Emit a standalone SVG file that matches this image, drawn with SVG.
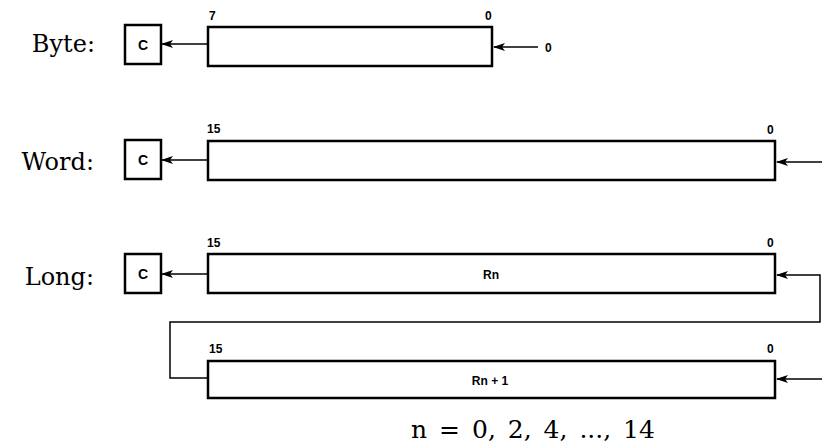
<svg xmlns="http://www.w3.org/2000/svg" width="826" height="446" viewBox="0 0 826 446">
<defs>
<marker id="ah" markerWidth="12" markerHeight="8" refX="11" refY="4" orient="auto" markerUnits="userSpaceOnUse">
<path d="M0,0 L12,4 L0,8 L3,4 Z" fill="#000"/>
</marker>
<style>
.reg{fill:#fff;stroke:#000;stroke-width:2.5}
.cb{fill:#fff;stroke:#000;stroke-width:2.5}
.ln{fill:none;stroke:#000;stroke-width:1.5}
.lab{font-family:"DejaVu Serif",serif;font-size:24px;fill:#000;text-anchor:end}
.foot{font-family:"DejaVu Serif",serif;font-size:25px;fill:#000;text-anchor:middle;word-spacing:4px}
.sm{font-family:"Liberation Sans",Arial,sans-serif;font-size:12px;font-weight:bold;fill:#000}
.cc{font-family:"Liberation Sans",Arial,sans-serif;font-size:14px;font-weight:bold;fill:#000;text-anchor:middle}
</style>
</defs>
<rect width="826" height="446" fill="#fff"/>

<g id="byte">
<text class="lab" x="95" y="52">Byte:</text>
<rect class="cb" x="125" y="25" width="36" height="39"/>
<text class="cc" x="143" y="50">C</text>
<rect class="reg" x="208" y="27" width="284" height="39"/>
<text class="sm" x="209" y="20">7</text>
<text class="sm" x="485" y="20">0</text>
<text class="sm" x="545" y="52">0</text>
</g>

<g id="word">
<text class="lab" x="94" y="170">Word:</text>
<rect class="cb" x="125" y="140" width="36" height="39"/>
<text class="cc" x="143" y="165">C</text>
<rect class="reg" x="208" y="141" width="567" height="39"/>
<text class="sm" x="207" y="133">15</text>
<text class="sm" x="767" y="134">0</text>
</g>

<g id="long">
<text class="lab" x="94" y="285">Long:</text>
<rect class="cb" x="125" y="254" width="36" height="39"/>
<text class="cc" x="143" y="279">C</text>
<rect class="reg" x="208" y="254" width="567" height="39"/>
<text class="sm" x="207" y="247">15</text>
<text class="sm" x="767" y="247">0</text>
<text class="sm" x="491" y="279" text-anchor="middle">Rn</text>
</g>

<g id="long2">
<rect class="reg" x="208" y="361" width="567" height="37"/>
<text class="sm" x="209" y="353">15</text>
<text class="sm" x="767" y="353">0</text>
<text class="sm" x="490" y="385" text-anchor="middle">Rn + 1</text>
</g>

<g id="footer">
<text class="foot" x="533" y="438">n = 0, 2, 4, ..., 14</text>
</g>

<g id="connectors">
<line class="ln" x1="208" y1="44" x2="162" y2="44" marker-end="url(#ah)"/>
<line class="ln" x1="538" y1="47" x2="494" y2="47" marker-end="url(#ah)"/>
<line class="ln" x1="208" y1="160" x2="162" y2="160" marker-end="url(#ah)"/>
<line class="ln" x1="822" y1="162" x2="777" y2="162" marker-end="url(#ah)"/>
<line class="ln" x1="208" y1="274" x2="162" y2="274" marker-end="url(#ah)"/>
<polyline class="ln" points="208,378 170,378 170,322 820,322 820,275 777,275" marker-end="url(#ah)"/>
<line class="ln" x1="822" y1="379" x2="777" y2="379" marker-end="url(#ah)"/>
</g>
</svg>
